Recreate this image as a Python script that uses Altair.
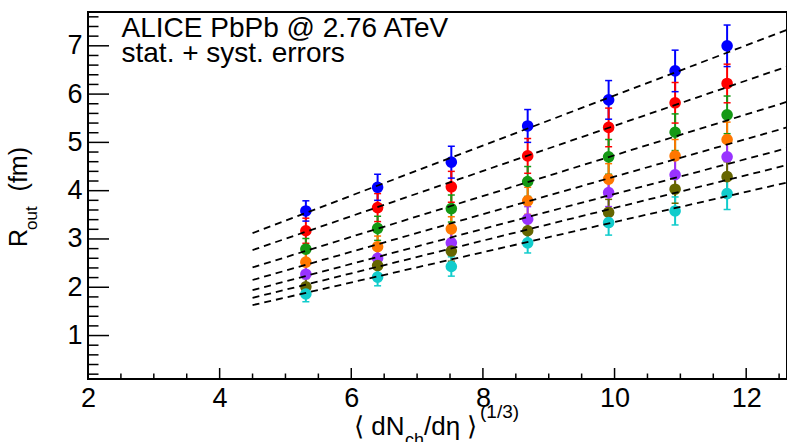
import altair as alt
import pandas as pd

# ---------------- data ----------------
series = ["kT1", "kT2", "kT3", "kT4", "kT5", "kT6", "kT7"]
colors = ["#0000ff", "#ff0000", "#149914", "#ff7700", "#9933ff", "#666600", "#11cccc"]

mult = [5.31, 6.40, 7.52, 8.68, 9.91, 10.92, 11.71]

r_blue   = [3.58, 4.07, 4.59, 5.34, 5.88, 6.48, 7.00]
r_red    = [3.17, 3.65, 4.08, 4.72, 5.31, 5.82, 6.22]
r_green  = [2.79, 3.22, 3.63, 4.19, 4.70, 5.21, 5.57]
r_orange = [2.52, 2.84, 3.21, 3.79, 4.24, 4.72, 5.06]
r_purple = [2.27, 2.60, 2.92, 3.41, 3.96, 4.33, 4.70]
r_olive  = [2.01, 2.45, 2.75, 3.17, 3.55, 4.03, 4.29]
r_cyan   = [1.86, 2.21, 2.43, 2.92, 3.34, 3.58, 3.94]

e_blue   = [0.21, 0.27, 0.33, 0.34, 0.40, 0.43, 0.43]
e_red    = [0.26, 0.29, 0.32, 0.36, 0.40, 0.42, 0.40]
e_green  = [0.22, 0.25, 0.28, 0.31, 0.36, 0.38, 0.39]
e_orange = [0.20, 0.22, 0.25, 0.28, 0.32, 0.34, 0.36]
e_purple = [0.18, 0.20, 0.23, 0.26, 0.29, 0.31, 0.33]
e_olive  = [0.17, 0.19, 0.21, 0.24, 0.27, 0.29, 0.31]
e_cyan   = [0.16, 0.18, 0.20, 0.21, 0.26, 0.29, 0.33]

fit_x = [4.5, 12.62]
fit_start = [3.12, 2.77, 2.41, 2.15, 1.94, 1.78, 1.63]
fit_end   = [7.33, 6.57, 5.84, 5.31, 4.88, 4.53, 4.17]

x_major = [2, 4, 6, 8, 10, 12]
x_minor = [2 + 0.5 * i for i in range(22) if i % 4 != 0]
y_major = [1, 2, 3, 4, 5, 6, 7]
y_minor = [round(0.2 * i, 1) for i in range(1, 39) if i % 5 != 0]

# ---------------- tables ----------------
all_r = [r_blue, r_red, r_green, r_orange, r_purple, r_olive, r_cyan]
all_e = [e_blue, e_red, e_green, e_orange, e_purple, e_olive, e_cyan]
rows = []
for s, vals, errs in zip(series, all_r, all_e):
    for xv, v, e in zip(mult, vals, errs):
        rows.append({"series": s, "x": xv, "r": v, "lo": v - e, "hi": v + e})
pts = pd.DataFrame(rows)

caps = pd.concat([
    pts[["series", "x", "lo"]].rename(columns={"lo": "c"}),
    pts[["series", "x", "hi"]].rename(columns={"hi": "c"}),
])

fit_rows = []
for s, a, b in zip(series, fit_start, fit_end):
    fit_rows.append({"series": s, "x": fit_x[0], "y": a})
    fit_rows.append({"series": s, "x": fit_x[1], "y": b})
fits = pd.DataFrame(fit_rows)

W, H = 699, 367
FONT = "Liberation Sans"

xs = alt.Scale(domain=[2, 12.62], nice=False, zero=False)
ys = alt.Scale(domain=[0.1, 7.7], nice=False, zero=False)
xaxis = alt.Axis(values=x_major, title=None, ticks=False, domain=False, grid=False,
                 labelFont=FONT, labelFontSize=27, labelColor="black",
                 labelPadding=6, labelFlush=False, labelOverlap=False)
yaxis = alt.Axis(values=y_major, title=None, ticks=False, domain=False, grid=False,
                 labelFont=FONT, labelFontSize=27, labelColor="black",
                 labelPadding=6, labelOverlap=False)
cscale = alt.Scale(domain=series, range=colors)


def X(f):
    return alt.X(f, type="quantitative", scale=xs, axis=xaxis)


def Y(f):
    return alt.Y(f, type="quantitative", scale=ys, axis=yaxis)


COL = alt.Color("series:N", scale=cscale, legend=None)

xmaj = alt.Chart(pd.DataFrame({"v": x_major})).mark_rule(color="black", strokeWidth=1.5).encode(
    x=X("v"), y=alt.value(H), y2=alt.value(H - 11))
xmin = alt.Chart(pd.DataFrame({"v": x_minor})).mark_rule(color="black", strokeWidth=1.5).encode(
    x=X("v"), y=alt.value(H), y2=alt.value(H - 5.5))
ymaj = alt.Chart(pd.DataFrame({"v": y_major})).mark_rule(color="black", strokeWidth=1.5).encode(
    y=Y("v"), x=alt.value(0), x2=alt.value(21))
ymin = alt.Chart(pd.DataFrame({"v": y_minor})).mark_rule(color="black", strokeWidth=1.5).encode(
    y=Y("v"), x=alt.value(0), x2=alt.value(10.5))

bars = alt.Chart(pts).mark_rule(strokeWidth=2).encode(x=X("x"), y=Y("lo"), y2="hi", color=COL)
capm = alt.Chart(caps).mark_tick(orient="horizontal", size=7, thickness=1.5, opacity=1).encode(
    x=X("x"), y=Y("c"), color=COL)
dots = alt.Chart(pts).mark_circle(size=135, opacity=1).encode(x=X("x"), y=Y("r"), color=COL)
lines = alt.Chart(fits).mark_line(color="black", strokeWidth=1.8, strokeDash=[7, 5], clip=True).encode(
    x=X("x"), y=Y("y"), detail="series:N")


def txt(s, x, y, size, angle=0, align="left"):
    return alt.Chart(pd.DataFrame({"t": [s]})).mark_text(
        text=s, font=FONT, fontSize=size, color="black", align=align,
        baseline="alphabetic", angle=angle
    ).encode(x=alt.value(x - 88), y=alt.value(y - 12))


texts = [
    txt("ALICE PbPb @ 2.76 ATeV", 121.5, 36.5, 28),
    txt("stat. + syst. errors", 121.5, 62, 28),
    # y title
    txt("R", 27, 247, 25, angle=270),
    txt("out", 37, 230, 17, angle=270),
    txt("(fm)", 27, 147, 25, angle=270, align="right"),
    # x title
    txt("⟨ dN", 354, 435, 26),
    txt("ch", 405, 446, 18),
    txt("/dη ⟩", 424, 435, 26),
    txt("(1/3)", 480, 418, 19),
]

chart = alt.layer(xmin, xmaj, ymin, ymaj, bars, capm, dots, lines, *texts).properties(
    width=W, height=H,
    autosize=alt.AutoSizeParams(type="none"),
    padding={"left": 88, "top": 12, "right": 0, "bottom": 63},
    background="white",
).configure_view(stroke="black", strokeWidth=2)

chart.save("out.html", embed_options={"renderer": "svg", "actions": False})
